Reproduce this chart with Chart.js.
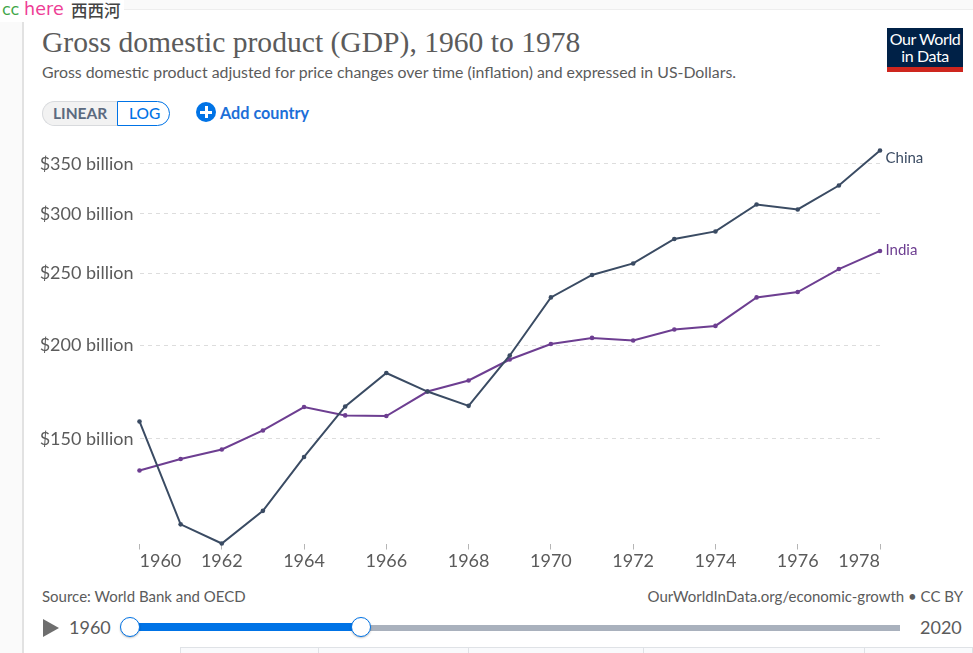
<!DOCTYPE html>
<html><head><meta charset="utf-8">
<script src="https://cdn.jsdelivr.net/npm/chart.js@4/dist/chart.umd.min.js"></script>
<style>
html,body{margin:0;padding:0;background:#fafafa;overflow:hidden}
#page{position:relative;width:973px;height:653px;overflow:hidden;font-family:Lato,sans-serif;background:#fafafa}
#panel{position:absolute;left:22px;top:9px;width:951px;height:644px;background:#fff;border-left:2px solid #e2e2e2;border-top:1px solid #eee;box-sizing:border-box}
canvas{position:absolute;left:0;top:0}
.t{position:absolute;white-space:nowrap;line-height:1}
.cell{position:absolute;top:647px;height:6px;border:1px solid #dfe2e6;border-bottom:none;background:#f9fafc;box-sizing:border-box}
</style></head><body>
<div id="page">
<div id="panel"></div>
<div style="position:absolute;left:0;top:0;width:124px;height:22px;background:#fff"></div>
<div class="t" style="left:2px;top:2px;font-size:16px;font-family:'DejaVu Sans',sans-serif;color:#3fa648;letter-spacing:-.3px">cc</div>
<div class="t" style="left:24px;top:1px;font-size:17.5px;font-family:'DejaVu Sans',sans-serif;color:#ee3e96;letter-spacing:.1px">here</div>
<div class="t" style="left:71px;top:2px;font-size:16.5px;font-weight:500;font-family:'Noto Sans CJK SC';color:#444">西西河</div>

<div class="t" id="title" style="left:42px;top:28px;font-size:29.6px;font-family:'Liberation Serif',serif;color:#5b5b5b">Gross domestic product (GDP), 1960 to 1978</div>
<div class="t" style="left:42px;top:63.5px;font-size:15.87px;color:#5b5b5b">Gross domestic product adjusted for price changes over time (inflation) and expressed in US-Dollars.</div>

<div style="position:absolute;left:42px;top:101px;width:76px;height:25px;background:#f2f2f2;border:1px solid #d8dadd;border-right:none;border-radius:13px 0 0 13px;box-sizing:border-box"></div>
<div style="position:absolute;left:117px;top:101px;width:53px;height:25px;background:#fff;border:1px solid #0073e6;border-radius:0 13px 13px 0;box-sizing:border-box"></div>
<div class="t" style="left:53px;top:105.5px;font-size:15.5px;font-weight:700;color:#5b6a80">LINEAR</div>
<div class="t" style="left:129px;top:105.5px;font-size:15.5px;font-weight:500;color:#0073e6">LOG</div>
<div style="position:absolute;left:196px;top:102px;width:20px;height:20px;border-radius:50%;background:#0073e6"></div>
<div style="position:absolute;left:200px;top:110.5px;width:12px;height:3px;background:#fff"></div>
<div style="position:absolute;left:204.5px;top:106px;width:3px;height:12px;background:#fff"></div>
<div class="t" style="left:220px;top:105px;font-size:16.2px;font-weight:700;color:#1d6fd8">Add country</div>

<div style="position:absolute;left:887px;top:28px;width:76px;height:44px;background:#002147"></div>
<div style="position:absolute;left:887px;top:67px;width:76px;height:5px;background:#ce261e"></div>
<div class="t" style="left:887px;top:31px;width:76px;text-align:center;font-size:16px;color:#fff;letter-spacing:-.4px;line-height:16.5px">Our World<br>in Data</div>

<div class="t" style="left:42px;top:589px;font-size:15px;color:#5b5b5b">Source: World Bank and OECD</div>
<div class="t" style="right:10px;top:589px;font-size:15px;color:#5b5b5b">OurWorldInData.org/economic-growth • CC BY</div>

<div style="position:absolute;left:43px;top:619px;width:0;height:0;border-left:16px solid #6e6e6e;border-top:9px solid transparent;border-bottom:9px solid transparent"></div>
<div class="t" style="left:69px;top:618px;font-size:18px;color:#5b5b5b">1960</div>
<div class="t" style="left:920px;top:618px;font-size:18px;color:#5b5b5b">2020</div>
<div style="position:absolute;left:130px;top:625px;width:770px;height:6px;background:#a9b1bd"></div>
<div style="position:absolute;left:130px;top:623px;width:231px;height:8px;background:#0073e6"></div>
<div style="position:absolute;left:120px;top:617px;width:20px;height:20px;border-radius:50%;background:#fff;border:1px solid #0073e6;box-sizing:border-box;box-shadow:0 1px 2px rgba(0,0,0,.25)"></div>
<div style="position:absolute;left:351px;top:617px;width:20px;height:20px;border-radius:50%;background:#fff;border:1px solid #0073e6;box-sizing:border-box;box-shadow:0 1px 2px rgba(0,0,0,.25)"></div>

<div class="cell" style="left:180px;width:139px"></div>
<div class="cell" style="left:318px;width:151px"></div>
<div class="cell" style="left:468px;width:176px"></div>
<div class="cell" style="left:643px;width:222px"></div>
<div class="cell" style="left:864px;width:109px"></div>

<canvas id="c" width="973" height="653"></canvas>
</div>
<script>
const years = [1960,1961,1962,1963,1964,1965,1966,1967,1968,1969,1970,1971,1972,1973,1974,1975,1976,1977,1978];
const china = [158.3,115.3,108.7,120.2,141.9,165.8,183.8,173.6,166.1,194.0,232.0,248.6,257.6,277.8,284.3,308.9,304.2,327.5,364.8];
const india = [136.1,141.0,145.2,154.0,165.5,161.3,161.0,173.6,179.6,191.6,201.0,204.8,203.2,210.2,212.5,232.0,235.9,253.2,267.7];
const yTicks = [150,200,250,300,350];
const xTicks = [1960,1962,1964,1966,1968,1970,1972,1974,1976,1978];
const seriesNames = ['China','India'];
const seriesColors = ['#3a4b63','#6d3e91'];

const endLabels = {
  id:'endLabels',
  afterDatasetsDraw(chart){
    const ctx = chart.ctx;
    chart.data.datasets.forEach((ds,i)=>{
      const pts = chart.getDatasetMeta(i).data;
      const p = pts[pts.length-1];
      ctx.save();
      ctx.font = '15px Lato';
      ctx.fillStyle = ds.borderColor;
      ctx.textAlign = 'left';
      ctx.textBaseline = 'middle';
      ctx.fillText(ds.label, p.x+5.5, p.y + (i===0 ? 8 : -0.5));
      ctx.restore();
    });
  }
};
const mk = (name,vals,col)=>({label:name,data:years.map((y,i)=>({x:y,y:vals[i]})),borderColor:col,backgroundColor:col,borderWidth:2,pointRadius:2.3,pointHoverRadius:2.3,pointBorderWidth:0,tension:0,clip:false});

new Chart(document.getElementById('c'),{
  type:'line',
  data:{datasets:[mk(seriesNames[0],china,seriesColors[0]),mk(seriesNames[1],india,seriesColors[1])]},
  plugins:[endLabels],
  options:{
    responsive:false,animation:false,
    layout:{padding:{left:0,right:93,top:150.5,bottom:0}},
    plugins:{legend:{display:false},tooltip:{enabled:false},title:{display:false}},
    scales:{
      x:{type:'linear',min:years[0],max:years[years.length-1],
        afterBuildTicks(a){a.ticks=xTicks.map(v=>({value:v}));},
        afterFit(a){a.height=109.5;},
        grid:{drawOnChartArea:false,drawTicks:true,tickLength:6,color:'#b5b5b5'},
        border:{display:false},
        ticks:{align:'inner',maxRotation:0,autoSkip:false,padding:1,color:'#5b5b5b',font:{family:'Lato',size:18},callback:v=>String(v)}},
      y:{type:'logarithmic',min:Math.min(...china,...india),max:Math.max(...china,...india),
        afterBuildTicks(a){a.ticks=yTicks.map(v=>({value:v}));},
        afterFit(a){a.width=139.5;},
        grid:{color:'#dddddd',drawTicks:false},
        border:{display:false,dash:[4,4]},
        ticks:{padding:6,color:'#5b5b5b',font:{family:'Lato',size:18},callback:v=>'$'+v+' billion'}}
    }
  }
});
</script>
</body></html>
